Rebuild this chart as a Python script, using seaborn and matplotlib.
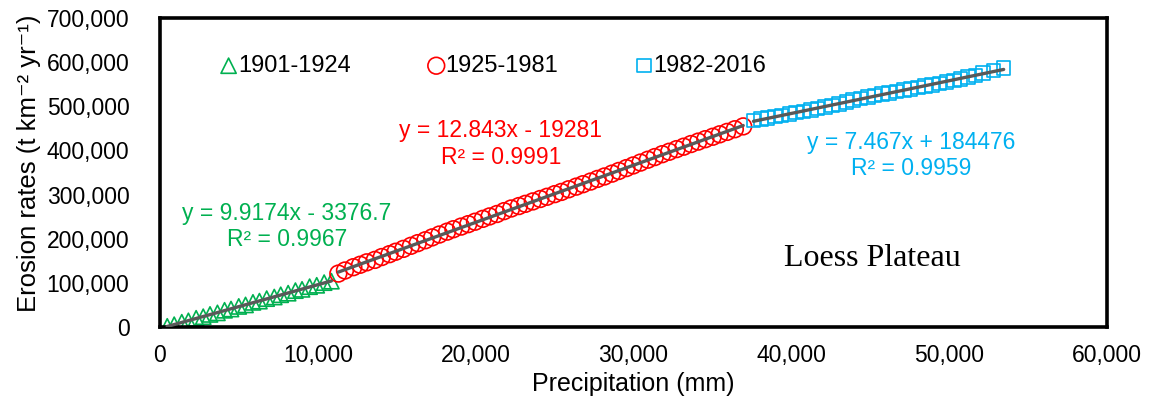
import numpy as np
import pandas as pd
import matplotlib
matplotlib.use("Agg")
import matplotlib.pyplot as plt
import seaborn as sns
from matplotlib.ticker import FuncFormatter

# ---- data (cumulative precipitation, mm ; cumulative erosion, t km-2 yr-1) ----
p1_x = [460, 900, 1380, 1800, 2290, 2740, 3170, 3640, 4090, 4500, 4990, 5420,
        5890, 6300, 6760, 7240, 7650, 8120, 8580, 9000, 9480, 9930, 10400, 10860]
p1_y = [1500, 5200, 10800, 14000, 19800, 23300, 28500, 32000, 37900, 40700, 46600, 50000,
        55800, 58600, 64300, 67900, 73000, 76600, 82400, 85300, 91300, 94500, 100500, 103800]

p2_x = [11300, 11720, 12250, 12680, 13100, 13610, 14050, 14540, 14930, 15420, 15900, 16330,
        16810, 17240, 17700, 18190, 18590, 19080, 19530, 19960, 20450, 20880, 21350, 21800,
        22250, 22740, 23150, 23620, 24090, 24520, 25010, 25430, 25890, 26370, 26800, 27280,
        27720, 28160, 28640, 29070, 29550, 29980, 30440, 30910, 31350, 31820, 32260, 32730,
        33180, 33640, 34100, 34550, 35020, 35460, 35930, 36420, 36950]
p2_y = [121000, 128000, 135500, 141000, 146500, 152000, 158500, 165000, 170500, 177000, 184000, 190000,
        196500, 203000, 209500, 216000, 221500, 227500, 233000, 238500, 245000, 250500, 256000, 262500,
        268500, 274000, 279000, 284500, 290000, 295000, 301000, 306000, 312000, 318000, 323500, 329500,
        335500, 341000, 347500, 353500, 360000, 366000, 372500, 379000, 385000, 391500, 397000, 403000,
        408500, 414500, 420000, 425500, 431000, 436500, 442000, 448000, 454500]

p3_x = [37600, 38080, 38490, 38960, 39390, 39870, 40300, 40760, 41240, 41650, 42130, 42580,
        43010, 43490, 43920, 44380, 44850, 45270, 45740, 46190, 46650, 47120, 47540, 48010,
        48460, 48920, 49380, 49820, 50290, 50730, 51200, 51660, 52150, 52800, 53450]
p3_y = [468000, 471000, 473500, 476500, 479500, 483000, 485500, 488000, 491500, 494500, 498000, 501500,
        505500, 510000, 514000, 517500, 521000, 524000, 527500, 530500, 533500, 536500, 539500, 542500,
        545500, 548500, 551500, 555000, 558500, 562000, 566000, 570000, 575000, 581000, 587000]

labels = ["1901-1924", "1925-1981", "1982-2016"]
equations = ["y = 9.9174x - 3376.7\nR² = 0.9967",
             "y = 12.843x - 19281\nR² = 0.9991",
             "y = 7.467x + 184476\nR² = 0.9959"]

x_ticks = [0, 10000, 20000, 30000, 40000, 50000, 60000]
y_ticks = [0, 100000, 200000, 300000, 400000, 500000, 600000, 700000]

# ---- style ----
sns.set_theme(style="white")
plt.rcParams["font.family"] = ["Liberation Sans", "DejaVu Sans"]
for k in ["text.color", "axes.labelcolor", "xtick.color", "ytick.color"]:
    plt.rcParams[k] = "black"

green, red, blue = "#00B050", "#FF0000", "#00B0F0"
trend_col = "#595959"

fig = plt.figure(figsize=(11.51, 4.04), dpi=100)
ax = fig.add_axes([0.139, 0.1906, 0.8228, 0.7648])

series = [(p1_x, p1_y, "^", green, 120),
          (p2_x, p2_y, "o", red, 145),
          (p3_x, p3_y, "s", blue, 95)]

for (xs, ys, mk, col, s), lab in zip(series, labels):
    df = pd.DataFrame({"x": xs, "y": ys})
    sns.scatterplot(data=df, x="x", y="y", marker=mk, s=s, facecolors="none",
                    edgecolor=col, linewidth=1.2, ax=ax, label=lab, zorder=2)
for xs, ys, mk, col, s in series:
    df = pd.DataFrame({"x": xs, "y": ys})
    sns.regplot(data=df, x="x", y="y", scatter=False, ci=None, truncate=True,
                color=trend_col, line_kws={"lw": 2.4, "zorder": 3}, ax=ax)

ax.set_xlim(0, 60000)
ax.set_ylim(0, 700000)
ax.set_xticks(x_ticks)
ax.set_yticks(y_ticks)
fmt = FuncFormatter(lambda v, p: f"{int(v):,}")
ax.xaxis.set_major_formatter(fmt)
ax.yaxis.set_major_formatter(fmt)
ax.tick_params(axis="both", direction="in", length=6, width=2, labelsize=16.5,
               colors="black")
ax.tick_params(axis="y", pad=22)
ax.tick_params(axis="x", pad=12)
for sp in ax.spines.values():
    sp.set_color("black")
    sp.set_linewidth(2.6)

ax.set_xlabel("Precipitation (mm)", fontsize=18, labelpad=4)
ax.set_ylabel("Erosion rates (t km⁻² yr⁻¹)", fontsize=18.5, labelpad=4)
ax.yaxis.label.set_y(0.53)

# equations
ax.text(0.134, 0.325, equations[0], transform=ax.transAxes, color=green,
        fontsize=16.5, ha="center", va="center", linespacing=1.2)
ax.text(0.360, 0.592, equations[1], transform=ax.transAxes, color=red,
        fontsize=16.5, ha="center", va="center", linespacing=1.2)
ax.text(0.793, 0.555, equations[2], transform=ax.transAxes, color=blue,
        fontsize=16.5, ha="center", va="center", linespacing=1.2)
ax.text(0.752, 0.222, "Loess Plateau", transform=ax.transAxes, color="black",
        fontsize=23, ha="center", va="center", family=["Liberation Serif", "DejaVu Serif"])

leg = ax.legend(loc="center left", bbox_to_anchor=(0.05, 0.845), ncol=3, frameon=False,
                fontsize=17, handletextpad=-0.1, handlelength=1.0, columnspacing=3.12,
                borderaxespad=0)
for t in leg.get_texts():
    t.set_color("black")

fig.savefig("out.png", dpi=100)
